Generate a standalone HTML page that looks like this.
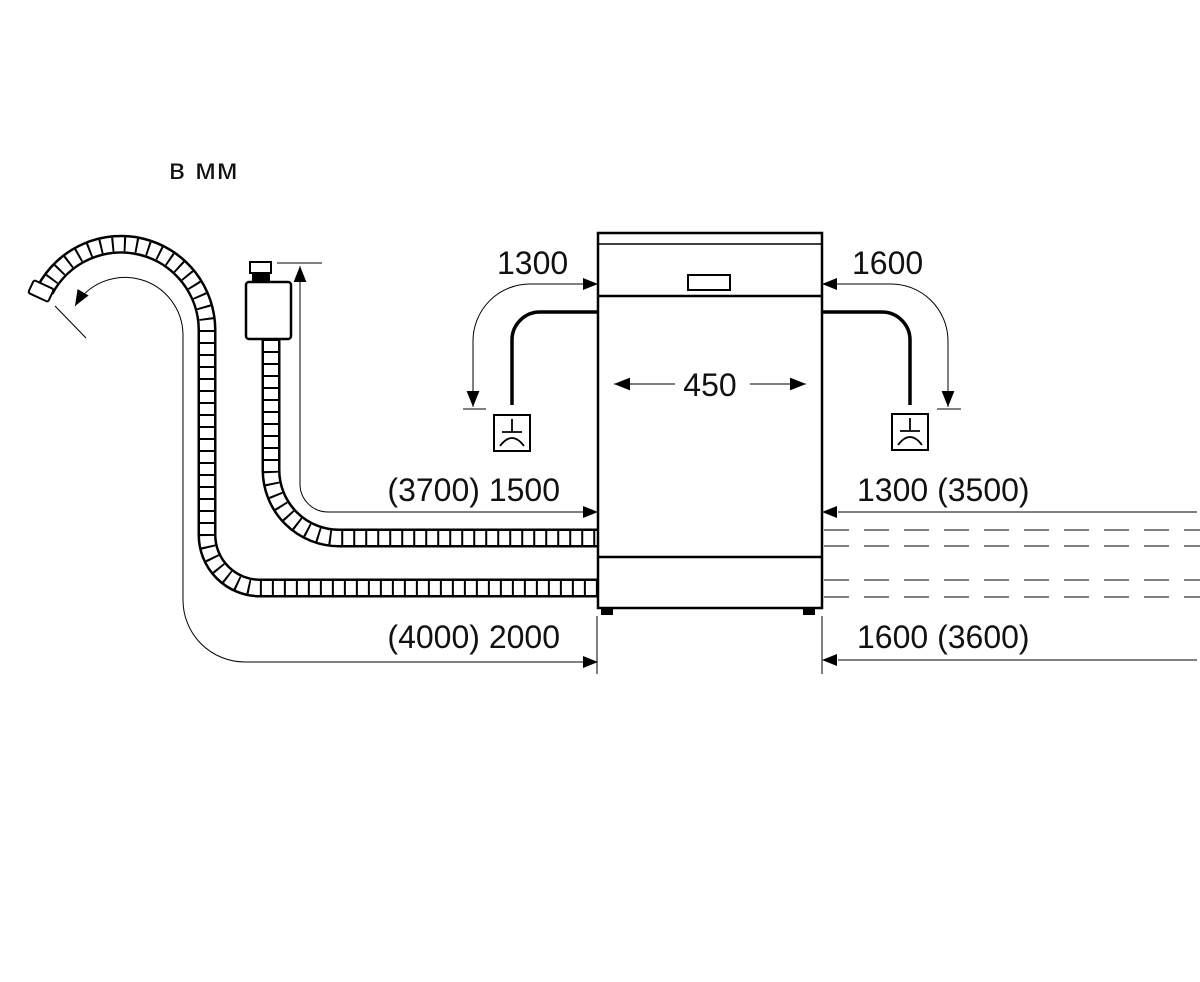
<!DOCTYPE html>
<html><head><meta charset="utf-8"><style>
html,body{margin:0;padding:0;background:#fff;}
svg{display:block;}
text{font-family:"Liberation Sans",sans-serif;fill:#111;}
</style></head><body>
<svg width="1200" height="982" viewBox="0 0 1200 982" xmlns="http://www.w3.org/2000/svg">
<defs>
<marker id="ah" viewBox="0 0 10 10" refX="10" refY="5" markerWidth="16" markerHeight="16" markerUnits="userSpaceOnUse" orient="auto">
<path d="M0,1 L10,5 L0,9 Z" fill="#000"/></marker>
</defs>
<text x="169" y="179" font-size="30" letter-spacing="1">в мм</text>

<!-- drain hose -->
<g fill="none">
<path d="M45,290 A86,86 0 0 1 207,330 L207,535 A53,53 0 0 0 260,588 L598,588" stroke="#000" stroke-width="19"/>
<path d="M45,290 A86,86 0 0 1 207,330 L207,535 A53,53 0 0 0 260,588 L598,588" stroke="#fff" stroke-width="14"/>
<path d="M45,290 A86,86 0 0 1 207,330 L207,535 A53,53 0 0 0 260,588 L598,588" stroke="#000" stroke-width="14" stroke-dasharray="2 10"/>
<!-- inlet hose -->
<path d="M271,339 L271,470 A68,68 0 0 0 339,538 L598,538" stroke="#000" stroke-width="19"/>
<path d="M271,339 L271,470 A68,68 0 0 0 339,538 L598,538" stroke="#fff" stroke-width="14"/>
<path d="M271,339 L271,470 A68,68 0 0 0 339,538 L598,538" stroke="#000" stroke-width="14" stroke-dasharray="2 10"/>
</g>
<!-- drain end -->
<rect x="30" y="284" width="22" height="14" rx="2" fill="#fff" stroke="#000" stroke-width="2" transform="rotate(25 41 291)"/>
<!-- valve -->
<rect x="246" y="282" width="45" height="57" rx="3" fill="#fff" stroke="#000" stroke-width="2.5"/>
<rect x="250" y="262" width="21" height="11" fill="#fff" stroke="#000" stroke-width="2"/>
<rect x="252" y="273" width="18" height="9" fill="#000"/>

<!-- thin dim lines -->
<g fill="none" stroke="#000" stroke-width="1">
<path d="M583,512 L328,512 A28,28 0 0 1 300,484 L300,266" marker-end="url(#ah)"/>
<line x1="277" y1="263" x2="322" y2="263"/>
<path d="M583,662 L245,662 A62,62 0 0 1 183,600 L183,335 A58,58 0 0 0 75,306" marker-end="url(#ah)"/>
<line x1="55" y1="306" x2="86" y2="338"/>
<path d="M583,284 L530,284 A57,57 0 0 0 473,341 L473,407" marker-end="url(#ah)"/>
<line x1="463" y1="409" x2="486" y2="409"/>
<path d="M837,284 L890,284 A57,57 0 0 1 948,341 L948,407" marker-end="url(#ah)"/>
<line x1="937" y1="409" x2="961" y2="409"/>
<line x1="1197" y1="512" x2="838" y2="512"/>
<line x1="1197" y1="660" x2="838" y2="660"/>
<line x1="675" y1="384" x2="614" y2="384" marker-end="url(#ah)"/>
<line x1="750" y1="384" x2="806" y2="384" marker-end="url(#ah)"/>
<line x1="597" y1="616" x2="597" y2="674"/>
<line x1="822" y1="616" x2="822" y2="674"/>
<g stroke-dasharray="25 15">
<line x1="824" y1="530" x2="1200" y2="530"/>
<line x1="824" y1="546" x2="1200" y2="546"/>
<line x1="824" y1="580" x2="1200" y2="580"/>
<line x1="824" y1="597" x2="1200" y2="597"/>
</g>
</g>
<path d="M598,284 L583,278 L583,290Z" fill="#000"/>
<path d="M822,284 L837,278 L837,290Z" fill="#000"/>
<path d="M598,512 L583,506 L583,518Z" fill="#000"/>
<path d="M598,662 L583,656 L583,668Z" fill="#000"/>
<path d="M822,512 L837,506 L837,518Z" fill="#000"/>
<path d="M822,660 L837,654 L837,666Z" fill="#000"/>

<!-- machine -->
<g fill="none" stroke="#000" stroke-width="2.5">
<rect x="598" y="233" width="224" height="375"/>
<line x1="598" y1="244" x2="822" y2="244" stroke-width="1.5"/>
<line x1="598" y1="296" x2="822" y2="296"/>
<line x1="598" y1="557" x2="822" y2="557"/>
<rect x="688" y="275" width="42" height="15" stroke-width="2"/>
<path d="M598,312 L540,312 A28,28 0 0 0 512,340 L512,405" stroke-width="3.5"/>
<path d="M822,312 L882,312 A28,28 0 0 1 910,340 L910,405" stroke-width="3.5"/>
<rect x="494" y="415" width="36" height="36" stroke-width="2"/>
<rect x="892" y="414" width="36" height="36" stroke-width="2"/>
<g stroke-width="1.8">
<line x1="512" y1="419" x2="512" y2="432"/><line x1="502" y1="432" x2="522" y2="432"/>
<path d="M500,446 Q512,430 524,446"/>
<line x1="910" y1="418" x2="910" y2="431"/><line x1="900" y1="431" x2="920" y2="431"/>
<path d="M898,445 Q910,429 922,445"/>
</g>
</g>
<rect x="601" y="608" width="12" height="7" fill="#000"/>
<rect x="803" y="608" width="12" height="7" fill="#000"/>

<g font-size="32">
<text x="497" y="274">1300</text>
<text x="852" y="274">1600</text>
<text x="710" y="396" text-anchor="middle">450</text>
<text x="560" y="501" text-anchor="end">(3700) 1500</text>
<text x="560" y="648" text-anchor="end">(4000) 2000</text>
<text x="857" y="501">1300 (3500)</text>
<text x="857" y="648">1600 (3600)</text>
</g>
</svg>
</body></html>
